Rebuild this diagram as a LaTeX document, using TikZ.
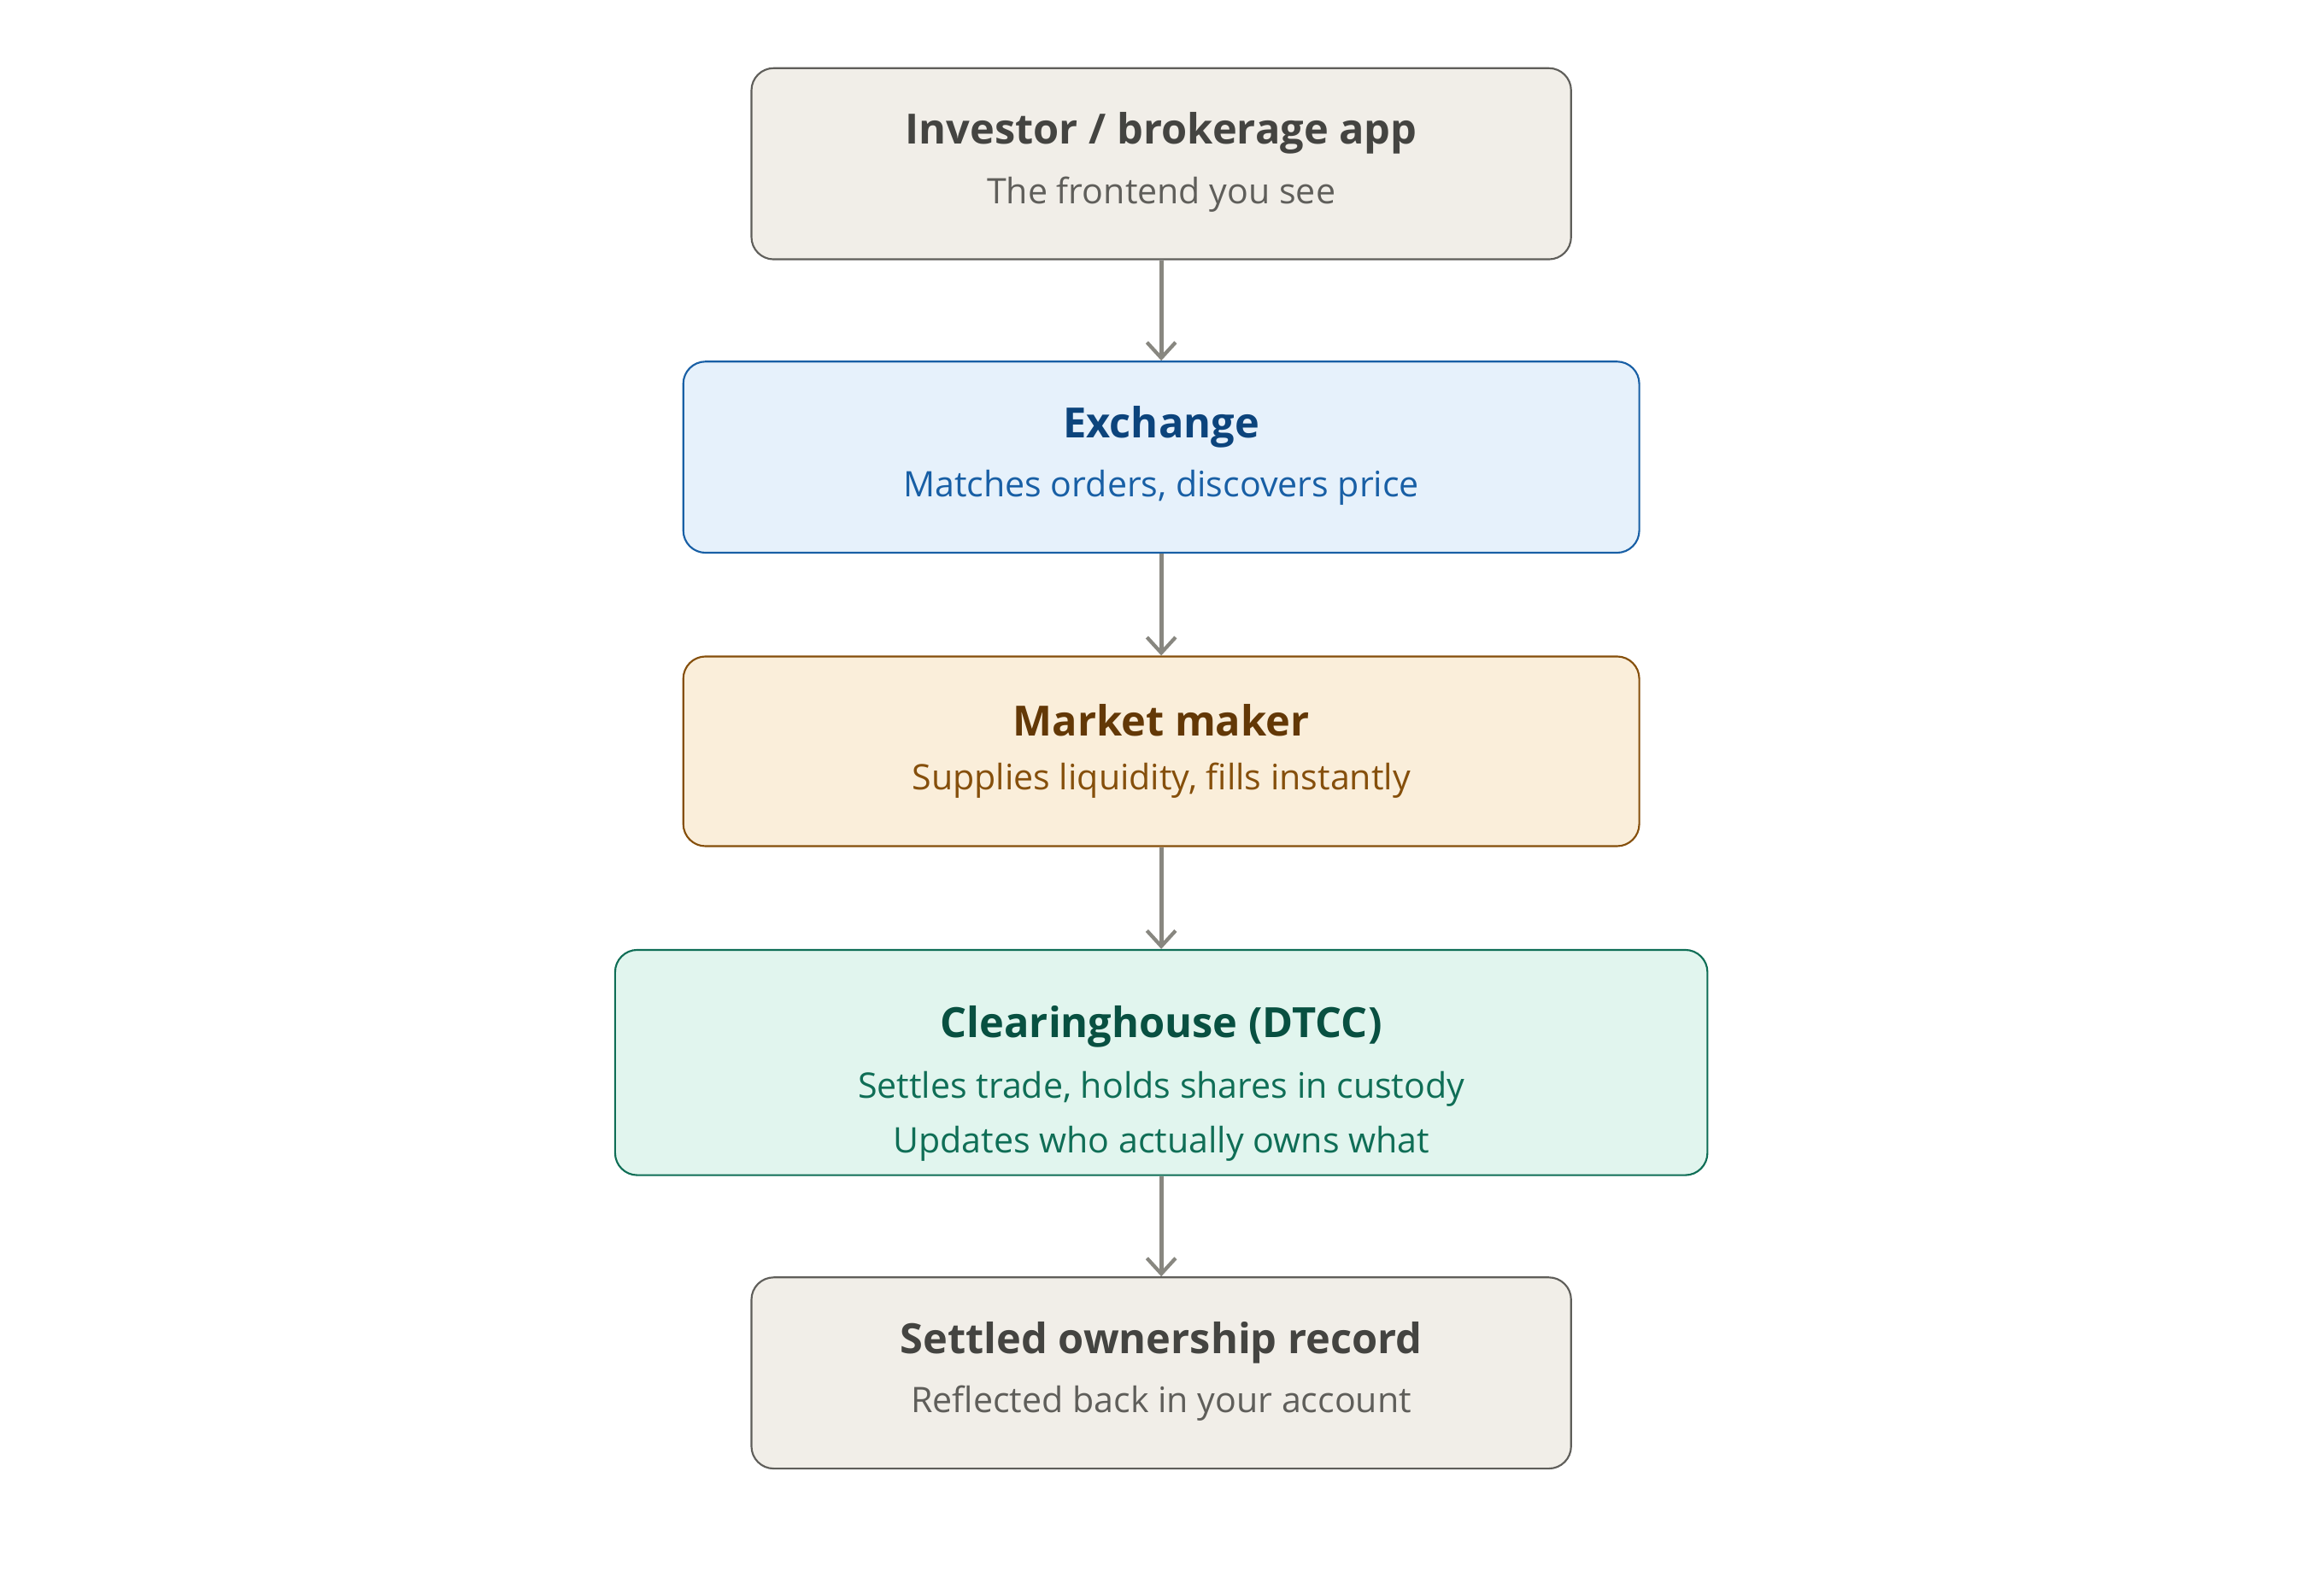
\documentclass[tikz,border=0pt]{standalone}
\usepackage{fontspec}
\setmainfont{Open Sans}
\usetikzlibrary{arrows.meta}
\definecolor{gfill}{HTML}{F1EEE8}\definecolor{gline}{HTML}{5F5E5A}\definecolor{gtitle}{HTML}{444441}
\definecolor{bfill}{HTML}{E6F1FB}\definecolor{bline}{HTML}{185FA5}\definecolor{btitle}{HTML}{0C447C}
\definecolor{ofill}{HTML}{FAEEDA}\definecolor{oline}{HTML}{854F0B}\definecolor{otitle}{HTML}{633806}
\definecolor{nfill}{HTML}{E1F5EE}\definecolor{nline}{HTML}{0F6E56}\definecolor{ntitle}{HTML}{085041}
\definecolor{arr}{HTML}{888780}
\begin{document}
\begin{tikzpicture}[x=0.02cm,y=-0.02cm,
  box/.style={draw, rounded corners=0.3cm, line width=0.7pt},
  ttl/.style={font=\fontsize{16}{19}\selectfont\bfseries, inner sep=0pt},
  sub/.style={font=\fontsize{13.5}{16}\selectfont, inner sep=0pt},
  conn/.style={draw=arr, line width=1.6pt, -{Straight Barb[length=6pt,width=11pt,line width=1.4pt]}}]
\useasboundingbox (0,0) rectangle (1568,1060);
\node[box, fill=gfill, draw=gline, minimum width=553*0.02cm, minimum height=129*0.02cm] (a) at (783.5,110.5) {};
\node[ttl, text=gtitle] (at) at (783.5,90) {Investor / brokerage app};
\node[sub, text=gline] (as) at (783.5,131) {The frontend you see};
\node[box, fill=bfill, draw=bline, minimum width=645*0.02cm, minimum height=129*0.02cm] (b) at (783.5,308.5) {};
\node[ttl, text=btitle] (bt) at (783.5,288) {Exchange};
\node[sub, text=bline] (bs) at (783.5,329) {Matches orders, discovers price};
\node[box, fill=ofill, draw=oline, minimum width=645*0.02cm, minimum height=128*0.02cm] (c) at (783.5,507) {};
\node[ttl, text=otitle] (ct) at (783.5,486) {Market maker};
\node[sub, text=oline] (cs) at (783.5,527) {Supplies liquidity, fills instantly};
\node[box, fill=nfill, draw=nline, minimum width=737*0.02cm, minimum height=152*0.02cm] (d) at (783.5,717) {};
\node[ttl, text=ntitle] (dt) at (783.5,693) {Clearinghouse (DTCC)};
\node[sub, text=nline] (ds) at (783.5,735) {Settles trade, holds shares in custody};
\node[sub, text=nline] (ds2) at (783.5,772) {Updates who actually owns what};
\node[box, fill=gfill, draw=gline, minimum width=553*0.02cm, minimum height=129*0.02cm] (e) at (783.5,926.5) {};
\node[ttl, text=gtitle] (et) at (783.5,906) {Settled ownership record};
\node[sub, text=gline] (es) at (783.5,947) {Reflected back in your account};
\draw[conn] (a.south) -- (b.north);
\draw[conn] (b.south) -- (c.north);
\draw[conn] (c.south) -- (d.north);
\draw[conn] (d.south) -- (e.north);
\end{tikzpicture}
\end{document}
